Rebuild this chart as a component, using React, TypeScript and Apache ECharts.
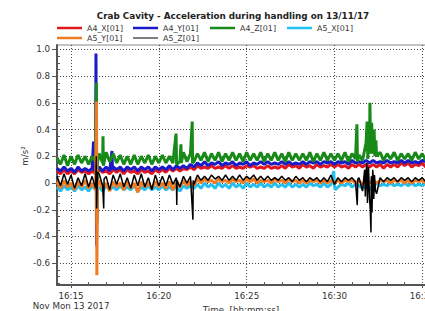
import React, { useEffect, useRef } from "react";
import * as echarts from "echarts";

// ---------- data (time in minutes after 16:00) ----------
const SERIES_NAMES = ["A4_X[01]", "A4_Y[01]", "A4_Z[01]", "A5_X[01]", "A5_Y[01]", "A5_Z[01]"];
const COLORS = ["#e2161e", "#1a1ac8", "#178a17", "#23bff0", "#f07c22", "#000000"];
const T_START = 14.2;
const T_STEP = 0.2;

const A4_X = [
  0.09, 0.07, 0.1, 0.07, 0.09, 0.07, 0.1, 0.08, 0.09, 0.07,
  0.09, 0.07, 0.1, 0.08, 0.09, 0.07, 0.1, 0.08, 0.1, 0.07,
  0.1, 0.08, 0.09, 0.07, 0.1, 0.08, 0.09, 0.07, 0.1, 0.08,
  0.1, 0.08, 0.11, 0.09, 0.11, 0.09, 0.11, 0.1, 0.12, 0.1,
  0.13, 0.11, 0.12, 0.11, 0.13, 0.11, 0.12, 0.11, 0.13, 0.11,
  0.13, 0.11, 0.12, 0.11, 0.13, 0.12, 0.13, 0.11, 0.12, 0.11,
  0.13, 0.11, 0.12, 0.11, 0.13, 0.11, 0.14, 0.12, 0.13, 0.11,
  0.14, 0.12, 0.13, 0.11, 0.14, 0.12, 0.13, 0.12, 0.14, 0.12,
  0.14, 0.12, 0.13, 0.11, 0.14, 0.12, 0.14, 0.12, 0.14, 0.12,
  0.14, 0.12, 0.14, 0.11, 0.14, 0.12, 0.14, 0.12, 0.15, 0.13,
  0.15, 0.12, 0.14, 0.13, 0.15, 0.12, 0.14, 0.13, 0.15, 0.13,
];
const A4_X_SPIKES: [number, number][] = [[16.43, 0.45], [16.46, -0.3], [16.49, 0.08]];

const A4_Y = [
  0.11, 0.09, 0.12, 0.09, 0.11, 0.08, 0.12, 0.09, 0.11, 0.09,
  0.11, 0.09, 0.12, 0.09, 0.12, 0.09, 0.12, 0.1, 0.12, 0.09,
  0.12, 0.1, 0.12, 0.09, 0.12, 0.1, 0.12, 0.09, 0.12, 0.1,
  0.12, 0.1, 0.13, 0.1, 0.13, 0.11, 0.13, 0.11, 0.14, 0.12,
  0.15, 0.13, 0.16, 0.13, 0.15, 0.14, 0.16, 0.13, 0.15, 0.14,
  0.16, 0.13, 0.15, 0.14, 0.16, 0.13, 0.15, 0.14, 0.16, 0.14,
  0.16, 0.14, 0.15, 0.14, 0.16, 0.14, 0.16, 0.14, 0.15, 0.14,
  0.16, 0.14, 0.16, 0.15, 0.16, 0.14, 0.16, 0.15, 0.16, 0.14,
  0.16, 0.15, 0.16, 0.14, 0.17, 0.15, 0.16, 0.15, 0.17, 0.15,
  0.17, 0.15, 0.16, 0.15, 0.17, 0.15, 0.16, 0.15, 0.17, 0.15,
  0.17, 0.15, 0.16, 0.15, 0.17, 0.16, 0.17, 0.15, 0.17, 0.16,
];
const A4_Y_SPIKES: [number, number][] = [
  [16.28, 0.31], [16.3, 0.1], [16.42, 0.97], [16.45, -0.47], [16.48, 0.1], [17.33, 0.24], [17.36, 0.1],
];

const A4_Z = [
  0.19, 0.14, 0.21, 0.13, 0.2, 0.14, 0.21, 0.15, 0.2, 0.14,
  0.2, 0.16, 0.22, 0.15, 0.23, 0.16, 0.22, 0.15, 0.21, 0.14,
  0.2, 0.14, 0.21, 0.14, 0.2, 0.15, 0.21, 0.14, 0.2, 0.15,
  0.21, 0.15, 0.2, 0.15, 0.22, 0.16, 0.23, 0.16, 0.22, 0.16,
  0.22, 0.17, 0.23, 0.16, 0.22, 0.17, 0.23, 0.16, 0.22, 0.17,
  0.23, 0.17, 0.22, 0.16, 0.23, 0.17, 0.22, 0.17, 0.23, 0.16,
  0.22, 0.17, 0.23, 0.17, 0.22, 0.16, 0.23, 0.17, 0.22, 0.17,
  0.22, 0.17, 0.23, 0.16, 0.22, 0.17, 0.23, 0.17, 0.22, 0.17,
  0.22, 0.17, 0.23, 0.16, 0.22, 0.18, 0.21, 0.17, 0.3, 0.22,
  0.35, 0.2, 0.23, 0.17, 0.22, 0.18, 0.23, 0.17, 0.22, 0.18,
  0.22, 0.17, 0.23, 0.18, 0.22, 0.17, 0.23, 0.18, 0.22, 0.18,
];
const A4_Z_SPIKES: [number, number][] = [
  [16.44, 0.75], [16.47, -0.3], [16.5, 0.15],
  [16.82, 0.35], [16.84, 0.13],
  [20.98, 0.37], [21.01, 0.14],
  [21.26, 0.29], [21.28, 0.15],
  [21.9, 0.46], [21.92, 0.15],
  [31.28, 0.44], [31.31, 0.16],
  [31.86, 0.46], [31.9, 0.18], [31.96, 0.4], [32.02, 0.6], [32.06, 0.24], [32.12, 0.45],
  [32.16, 0.22], [32.26, 0.4], [32.3, 0.2], [32.36, 0.32],
];

const A5_X = [
  -0.03, -0.06, -0.02, -0.05, -0.03, -0.06, -0.02, -0.05, -0.03, -0.06,
  -0.02, -0.05, -0.03, -0.06, -0.02, -0.05, -0.03, -0.05, -0.02, -0.05,
  -0.03, -0.05, -0.02, -0.06, -0.03, -0.05, -0.02, -0.05, -0.03, -0.05,
  -0.02, -0.05, -0.03, -0.05, -0.02, -0.06, -0.02, -0.04, -0.02, -0.04,
  -0.01, -0.04, 0.0, -0.03, -0.01, -0.04, 0.0, -0.03, -0.01, -0.04,
  0.0, -0.03, -0.01, -0.04, 0.0, -0.03, -0.01, -0.03, 0.0, -0.03,
  -0.01, -0.03, 0.0, -0.03, -0.01, -0.03, 0.0, -0.03, -0.01, -0.03,
  -0.01, -0.03, 0.0, -0.02, -0.01, -0.03, 0.0, -0.03, -0.01, -0.02,
  -0.03, -0.01, -0.02, 0.0, -0.03, -0.01, -0.02, -0.04, -0.02, -0.05,
  -0.02, 0.0, -0.02, -0.01, -0.02, 0.0, -0.02, -0.01, -0.02, 0.0,
  -0.02, 0.0, -0.02, -0.01, -0.02, 0.0, -0.02, -0.01, -0.02, 0.0,
];
const A5_X_SPIKES: [number, number][] = [[29.96, 0.09], [30.04, -0.05]];

const A5_Y = [
  0.01, -0.04, 0.02, -0.03, 0.0, -0.05, 0.01, -0.03, 0.02, -0.04,
  0.0, -0.05, 0.02, -0.04, 0.0, -0.06, 0.01, -0.03, 0.0, -0.05,
  0.01, -0.04, 0.0, -0.07, 0.01, -0.03, 0.0, -0.04, 0.01, -0.03,
  0.0, -0.04, 0.01, -0.05, 0.0, -0.03, 0.02, -0.02, 0.01, -0.02,
  0.03, 0.0, 0.03, 0.01, 0.02, 0.0, 0.03, 0.01, 0.02, 0.0,
  0.03, 0.01, 0.02, 0.0, 0.03, 0.01, 0.03, 0.0, 0.02, 0.01,
  0.02, 0.0, 0.03, 0.01, 0.02, 0.0, 0.03, 0.01, 0.02, 0.0,
  0.02, 0.0, 0.02, 0.01, 0.02, 0.0, 0.02, 0.0, 0.02, 0.0,
  0.02, 0.0, 0.02, 0.01, 0.02, 0.0, 0.02, -0.01, 0.02, 0.0,
  0.02, 0.0, 0.02, 0.01, 0.02, 0.0, 0.02, 0.01, 0.02, 0.0,
  0.02, 0.0, 0.02, 0.01, 0.02, 0.0, 0.02, 0.01, 0.02, 0.01,
];
const A5_Y_SPIKES: [number, number][] = [[16.45, 0.61], [16.47, -0.69], [16.5, -0.02]];

const A5_Z = [
  0.05, -0.02, 0.07, -0.01, 0.06, -0.04, 0.04, -0.02, 0.07, -0.03,
  0.05, -0.04, 0.07, -0.02, 0.05, -0.05, 0.06, -0.01, 0.07, -0.03,
  0.04, -0.04, 0.06, -0.02, 0.07, -0.03, 0.04, -0.05, 0.06, -0.02,
  0.05, -0.02, 0.06, -0.01, 0.04, -0.03, 0.05, 0.0, 0.05, -0.01,
  0.06, 0.02, 0.05, 0.02, 0.06, 0.03, 0.05, 0.02, 0.06, 0.02,
  0.05, 0.02, 0.06, 0.02, 0.05, 0.03, 0.06, 0.02, 0.05, 0.02,
  0.05, 0.02, 0.04, 0.02, 0.05, 0.02, 0.04, 0.01, 0.05, 0.02,
  0.04, 0.01, 0.04, 0.02, 0.04, 0.01, 0.04, 0.01, 0.06, -0.01,
  0.04, 0.01, 0.04, 0.02, 0.04, 0.01, 0.04, -0.06, 0.08, -0.12,
  0.06, -0.08, 0.04, 0.01, 0.04, 0.02, 0.04, 0.01, 0.04, 0.02,
  0.04, 0.01, 0.04, 0.02, 0.04, 0.01, 0.04, 0.02, 0.04, 0.01,
];
const A5_Z_SPIKES: [number, number][] = [
  [16.44, 0.2], [16.46, -0.19], [16.5, 0.08],
  [16.86, -0.19], [16.88, 0.03],
  [21.02, -0.165], [21.04, 0.02],
  [21.94, -0.275], [21.96, 0.02],
  [31.3, -0.165], [31.33, 0.03],
  [31.72, 0.1], [31.76, -0.1], [31.84, 0.15], [31.88, -0.15], [31.94, 0.12],
  [32.04, -0.2], [32.08, -0.37], [32.1, 0.05], [32.14, -0.22], [32.18, 0.1],
  [32.24, -0.12], [32.28, 0.06], [32.34, -0.06],
];

const BASES = [A4_X, A4_Y, A4_Z, A5_X, A5_Y, A5_Z];
const SPIKES = [A4_X_SPIKES, A4_Y_SPIKES, A4_Z_SPIKES, A5_X_SPIKES, A5_Y_SPIKES, A5_Z_SPIKES];

const X_MIN = 14.2;
const X_MAX = 36;
const X_TICKS = [15, 20, 25, 30, 35];
const X_MINOR = [16, 17, 18, 19, 21, 22, 23, 24, 26, 27, 28, 29, 31, 32, 33, 34];
const Y_MIN = -0.763;
const Y_MAX = 1.033;
const Y_TICKS = [-0.6, -0.4, -0.2, 0, 0.2, 0.4, 0.6, 0.8, 1.0];
const Y_MINOR = [
  -0.75, -0.7, -0.65, -0.55, -0.5, -0.45, -0.35, -0.3, -0.25, -0.15, -0.1, -0.05,
  0.05, 0.1, 0.15, 0.25, 0.3, 0.35, 0.45, 0.5, 0.55, 0.65, 0.7, 0.75, 0.85, 0.9, 0.95,
];
const DATE_LINE = "Nov Mon 13 2017";
const TITLE = "Crab Cavity - Acceleration during handling on 13/11/17";

const FONT = "DejaVu Sans";

function buildData(base: number[], spikes: [number, number][]) {
  const pts: [number, number][] = base.map((v, i) => [+(T_START + i * T_STEP).toFixed(2), v]);
  return pts.concat(spikes).sort((a, b) => a[0] - b[0]);
}

const LEGEND_POS = [
  [57, 23], [133, 23], [210, 23], [287, 23], [57, 33], [133, 33],
];

export default function App() {
  const ref = useRef<HTMLDivElement>(null);
  useEffect(() => {
    const chart = echarts.init(ref.current!, null, { renderer: "svg" });
    const labelStyle = { color: "#333", fontSize: 8.7, fontFamily: FONT };
    const option: any = {
      animation: false,
      backgroundColor: "#fff",
      textStyle: { fontFamily: FONT },
      grid: { left: 57, top: 45, right: 20.2, bottom: 23, show: true, borderColor: "#888", borderWidth: 1 },
      legend: SERIES_NAMES.map((n, i) => ({
        data: [n],
        left: LEGEND_POS[i][0],
        top: LEGEND_POS[i][1],
        padding: 0,
        itemGap: 0,
        itemWidth: 25,
        itemHeight: i === 5 ? 1 : 2.5,
        icon: "rect",
        selectedMode: false,
        textStyle: { color: "#333", fontSize: 7.9, fontFamily: FONT, lineHeight: 10 },
      })),
      xAxis: [
        {
          type: "value",
          min: X_MIN,
          max: X_MAX,
          minInterval: 5,
          maxInterval: 5,
          axisLine: { show: true, onZero: false, lineStyle: { color: "#555", width: 2 } },
          axisTick: { show: true, inside: false, length: 3, customValues: X_TICKS, lineStyle: { color: "#555" } },
          axisLabel: {
            ...labelStyle,
            customValues: X_TICKS,
            margin: 6,
            lineHeight: 10,
            formatter: (v: number) => {
              const m = Math.round(v);
              const s = "16:" + String(m).padStart(2, "0");
              return m === 15 ? s + "\n" + DATE_LINE : s;
            },
          },
          splitLine: { show: true, lineStyle: { color: "#444", type: [1, 2], width: 1 } },
        },
        {
          type: "value",
          min: X_MIN,
          max: X_MAX,
          position: "bottom",
          axisLine: { show: false, onZero: false },
          axisTick: { show: true, inside: true, length: 3, customValues: X_MINOR, lineStyle: { color: "#555" } },
          axisLabel: { show: false },
          splitLine: { show: false },
        },
      ],
      yAxis: [
        {
          type: "value",
          min: Y_MIN,
          max: Y_MAX,
          minInterval: 0.2,
          maxInterval: 0.2,
          axisLine: { show: true, onZero: false, lineStyle: { color: "#555", width: 2 } },
          axisTick: { show: true, inside: false, length: 5, customValues: Y_TICKS, lineStyle: { color: "#555" } },
          axisLabel: {
            ...labelStyle,
            customValues: Y_TICKS,
            margin: 7,
            formatter: (v: number) => (Math.abs(v) < 1e-9 ? "0" : v.toFixed(1)),
          },
          splitLine: { show: true, lineStyle: { color: "#444", type: [1, 2], width: 1 } },
        },
        {
          type: "value",
          min: Y_MIN,
          max: Y_MAX,
          position: "left",
          axisLine: { show: false, onZero: false },
          axisTick: { show: true, inside: true, length: 3, customValues: Y_MINOR, lineStyle: { color: "#555" } },
          axisLabel: { show: false },
          splitLine: { show: false },
        },
      ],
      graphic: [
        {
          type: "text",
          x: 233,
          y: 16,
          style: {
            text: TITLE,
            fill: "#222",
            font: `bold 8.8px "${FONT}"`,
            textAlign: "center",
            textVerticalAlign: "middle",
          },
        },
        {
          type: "text",
          x: 25,
          y: 156,
          rotation: Math.PI / 2,
          style: {
            text: "m/s²",
            fill: "#333",
            font: `8.7px "${FONT}"`,
            textAlign: "center",
            textVerticalAlign: "middle",
          },
        },
        {
          type: "text",
          x: 241,
          y: 309.5,
          style: {
            text: "Time  [hh:mm:ss]",
            fill: "#333",
            font: `8.7px "${FONT}"`,
            textAlign: "center",
            textVerticalAlign: "middle",
          },
        },
      ],
      series: SERIES_NAMES.map((n, i) => ({
        name: n,
        type: "line",
        xAxisIndex: 0,
        yAxisIndex: 0,
        showSymbol: false,
        symbol: "none",
        color: COLORS[i],
        lineStyle: { width: i === 5 ? 1.5 : 3, color: COLORS[i] },
        data: buildData(BASES[i], SPIKES[i]),
      })),
    };
    chart.setOption(option);
    return () => chart.dispose();
  }, []);
  return (
    <div style={{ position: "fixed", left: 0, top: 0, width: 425, height: 311, overflow: "hidden", background: "#fff" }}>
      <div ref={ref} style={{ width: 460, height: 311 }} />
    </div>
  );
}
